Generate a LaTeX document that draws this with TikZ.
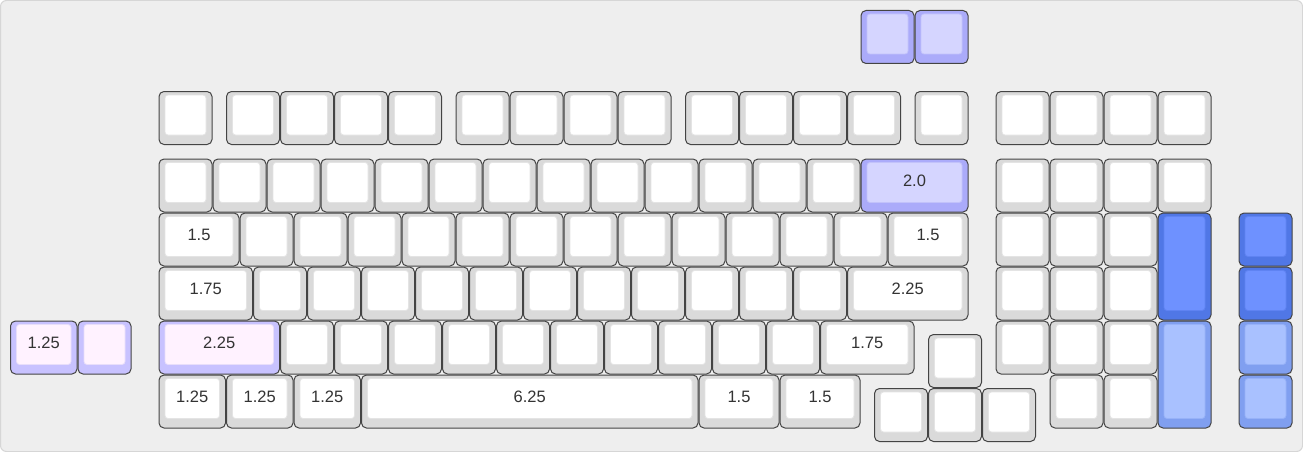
\documentclass[tikz,border=0pt]{standalone}
\usepackage{fontspec}
\setmainfont{Liberation Sans}
\definecolor{bg}{HTML}{EEEEEE}
\definecolor{bgline}{HTML}{D6D6D6}
\definecolor{keyline}{HTML}{444444}
\definecolor{txt}{HTML}{333333}
% white keys
\definecolor{wside}{HTML}{DADADA}
\definecolor{wface}{HTML}{FFFFFF}
\definecolor{wedge}{HTML}{E4E4E4}
% periwinkle keys
\definecolor{bside}{HTML}{ABABFA}
\definecolor{bface}{HTML}{D5D5FF}
\definecolor{bedge}{HTML}{C2C2FA}
% lavender keys
\definecolor{lside}{HTML}{C8C2FF}
\definecolor{lface}{HTML}{FFF2FF}
\definecolor{ledge}{HTML}{E8DEFA}
% dark blue keys
\definecolor{dside}{HTML}{5077E6}
\definecolor{dface}{HTML}{6E91FF}
\definecolor{dedge}{HTML}{5F83F2}
% light blue keys
\definecolor{pside}{HTML}{809FF0}
\definecolor{pface}{HTML}{A9C1FF}
\definecolor{pedge}{HTML}{97B2F8}
\tikzset{
  keyside/.style={draw=keyline, line width=1pt, rounded corners=5pt, inner sep=0pt, outer sep=0pt, anchor=north west},
  keyface/.style={line width=0.8pt, rounded corners=3pt, inner sep=0pt, outer sep=0pt, anchor=north west},
  keylabel/.style={inner sep=0pt, text=txt, font=\fontsize{16.5}{17}\selectfont},
}
% #1 name, #2 x units, #3 y units, #4 width u, #5 height u, #6 scheme, #7 label
\newcommand\kcap[7]{%
  \pgfmathsetmacro\kx{10+54*(#2)}%
  \pgfmathsetmacro\ky{10+54*(#3)}%
  \pgfmathsetmacro\kw{54*(#4)-1}%
  \pgfmathsetmacro\kh{54*(#5)-1}%
  \pgfmathsetmacro\fw{54*(#4)-13}%
  \pgfmathsetmacro\fh{54*(#5)-14}%
  \node[keyside, fill=#6side, minimum width=\kw pt, minimum height=\kh pt] (#1) at (\kx+0.5,\ky+0.5) {};
  \node[keyface, draw=#6edge, fill=#6face, minimum width=\fw pt, minimum height=\fh pt] (#1f) at (\kx+6.5,\ky+4) {};
  \node[keylabel] (#1t) at ([yshift=1.5pt]#1f.center) {#7};
}
\begin{document}
\begin{tikzpicture}[x=1pt,y=-1pt]
\useasboundingbox (0,0) rectangle (1303,452);
\draw[fill=bg, draw=bgline, line width=1pt, rounded corners=6pt] (0.5,0.5) rectangle (1302.5,451.5);
% top extra keys
\kcap{t1}{15.75}{0}{1}{1}{b}{}
\kcap{t2}{16.75}{0}{1}{1}{b}{}
% row 0
\foreach \u [count=\i] in {2.75,4,5,6,7,8.25,9.25,10.25,11.25,12.5,13.5,14.5,15.5,16.75,18.25,19.25,20.25,21.25}
  {\kcap{ra\i}{\u}{1.5}{1}{1}{w}{}}
% row 1
\foreach \i in {0,...,12} {\kcap{rb\i}{2.75+\i}{2.75}{1}{1}{w}{}}
\kcap{rbbs}{15.75}{2.75}{2}{1}{b}{2.0}
\foreach \i in {0,...,3} {\kcap{rbn\i}{18.25+\i}{2.75}{1}{1}{w}{}}
% row 2
\kcap{rctab}{2.75}{3.75}{1.5}{1}{w}{1.5}
\foreach \i in {0,...,11} {\kcap{rc\i}{4.25+\i}{3.75}{1}{1}{w}{}}
\kcap{rcbsl}{16.25}{3.75}{1.5}{1}{w}{1.5}
\foreach \i in {0,...,2} {\kcap{rcn\i}{18.25+\i}{3.75}{1}{1}{w}{}}
\kcap{rcplus}{21.25}{3.75}{1}{2}{d}{}
\kcap{rcx}{22.75}{3.75}{1}{1}{d}{}
% row 3
\kcap{rdcaps}{2.75}{4.75}{1.75}{1}{w}{1.75}
\foreach \i in {0,...,10} {\kcap{rd\i}{4.5+\i}{4.75}{1}{1}{w}{}}
\kcap{rdent}{15.5}{4.75}{2.25}{1}{w}{2.25}
\foreach \i in {0,...,2} {\kcap{rdn\i}{18.25+\i}{4.75}{1}{1}{w}{}}
\kcap{rdx}{22.75}{4.75}{1}{1}{d}{}
% row 4
\kcap{rel1}{0}{5.75}{1.25}{1}{l}{1.25}
\kcap{rel2}{1.25}{5.75}{1}{1}{l}{}
\kcap{relsh}{2.75}{5.75}{2.25}{1}{l}{2.25}
\foreach \i in {0,...,9} {\kcap{re\i}{5+\i}{5.75}{1}{1}{w}{}}
\kcap{rersh}{15}{5.75}{1.75}{1}{w}{1.75}
\kcap{reup}{17}{6}{1}{1}{w}{}
\foreach \i in {0,...,2} {\kcap{ren\i}{18.25+\i}{5.75}{1}{1}{w}{}}
\kcap{rent}{21.25}{5.75}{1}{2}{p}{}
\kcap{rex}{22.75}{5.75}{1}{1}{p}{}
% row 5
\kcap{rf1}{2.75}{6.75}{1.25}{1}{w}{1.25}
\kcap{rf2}{4}{6.75}{1.25}{1}{w}{1.25}
\kcap{rf3}{5.25}{6.75}{1.25}{1}{w}{1.25}
\kcap{rfsp}{6.5}{6.75}{6.25}{1}{w}{6.25}
\kcap{rf4}{12.75}{6.75}{1.5}{1}{w}{1.5}
\kcap{rf5}{14.25}{6.75}{1.5}{1}{w}{1.5}
\kcap{rfle}{16}{7}{1}{1}{w}{}
\kcap{rfdn}{17}{7}{1}{1}{w}{}
\kcap{rfri}{18}{7}{1}{1}{w}{}
\kcap{rfn0}{19.25}{6.75}{1}{1}{w}{}
\kcap{rfn1}{20.25}{6.75}{1}{1}{w}{}
\kcap{rfx}{22.75}{6.75}{1}{1}{p}{}
\end{tikzpicture}
\end{document}
